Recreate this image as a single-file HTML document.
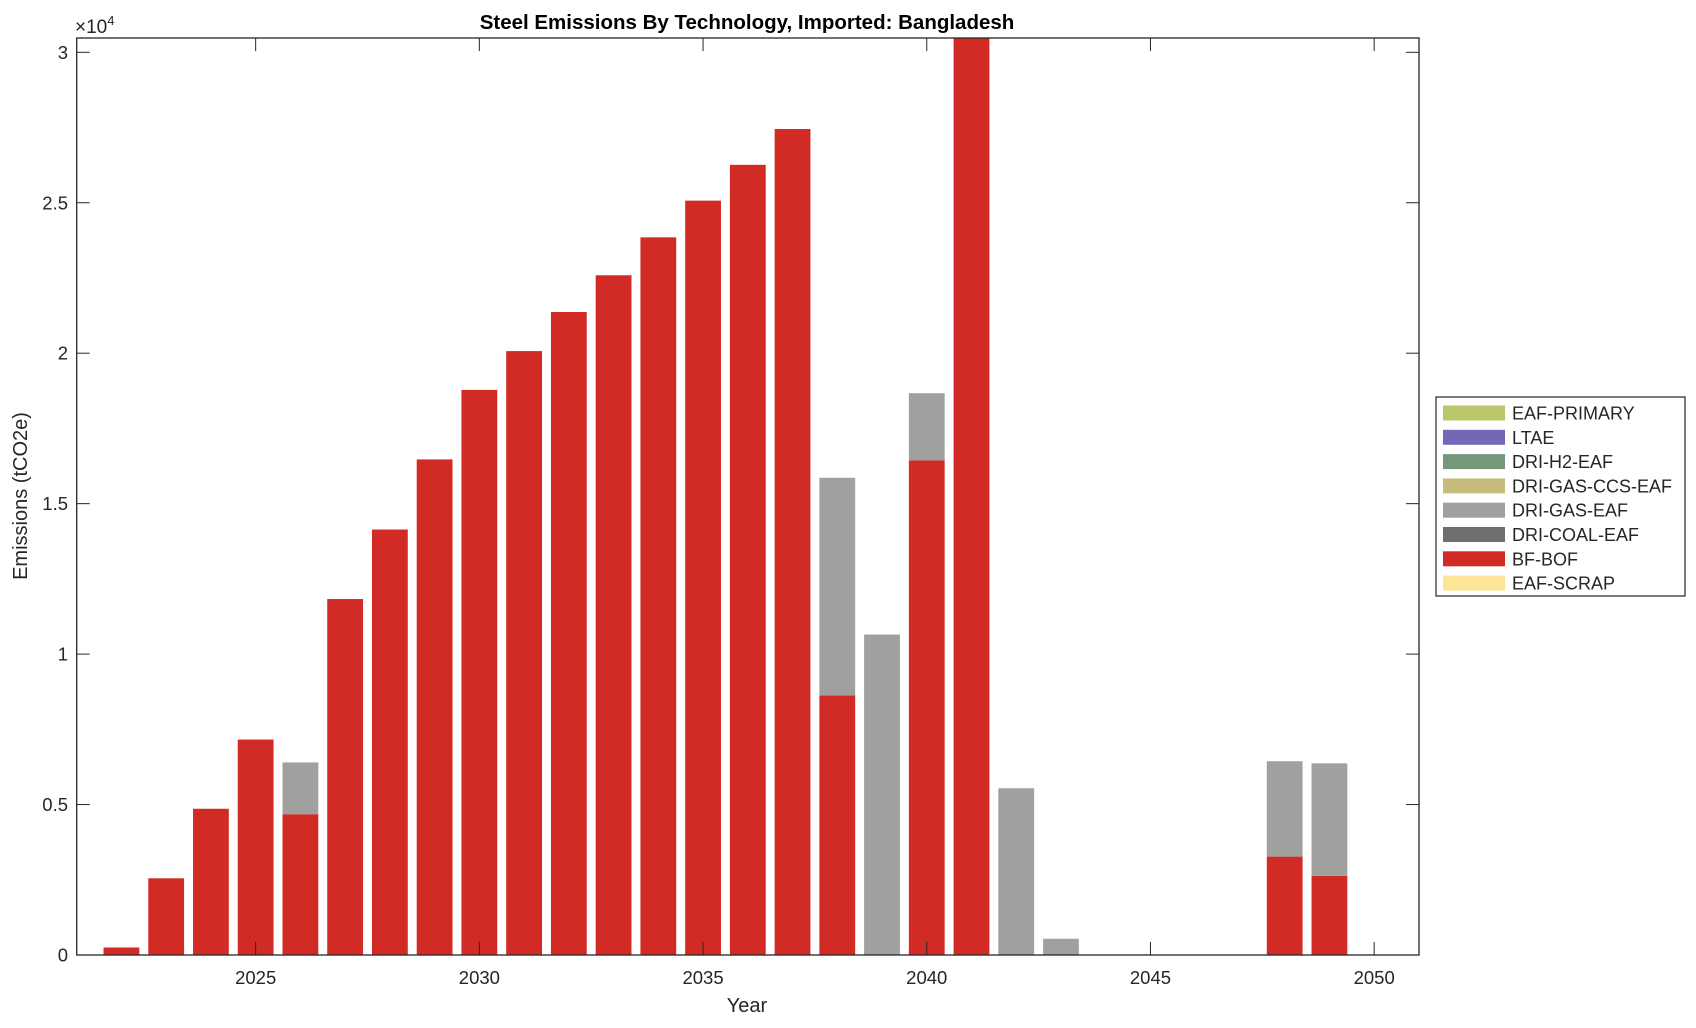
<!DOCTYPE html>
<html><head><meta charset="utf-8"><style>
body{margin:0;background:#fff;}
svg text{font-family:"Liberation Sans",Arial,sans-serif;fill:#262626;}
</style></head><body>
<svg id="s" width="1696" height="1023" xmlns="http://www.w3.org/2000/svg">
<rect width="1696" height="1023" fill="#fff"/>
<g id="bars"></g>
<g id="ax"></g>
<text x="747" y="29" font-size="20.5" font-weight="bold" text-anchor="middle" style="fill:#000">Steel Emissions By Technology, Imported: Bangladesh</text>
<text x="75" y="33" font-size="19">×10<tspan font-size="13" dy="-8">4</tspan></text>
<text x="747" y="1012" font-size="20" text-anchor="middle">Year</text>
<text transform="translate(27,496) rotate(-90)" font-size="20" text-anchor="middle">Emissions (tCO2e)</text>
<g id="leg"></g>
</svg>
<script>
var NS="http://www.w3.org/2000/svg";
function el(p,t,a,txt){var e=document.createElementNS(NS,t);for(var k in a)e.setAttribute(k,a[k]);if(txt!==undefined)e.textContent=txt;document.getElementById(p).appendChild(e);return e;}
var L=76.7,R=1419,T=38,B=955;
function X(y){return L+(y-2021)*44.74;}
function Y(v){return B-v*300.9;}
var red="#D22B26",gray="#A0A09F";
var data=[[2022,0.025,0],[2023,0.255,0],[2024,0.486,0],[2025,0.716,0],[2026,0.468,0.172],[2027,1.183,0],[2028,1.414,0],[2029,1.647,0],[2030,1.878,0],[2031,2.007,0],[2032,2.137,0],[2033,2.259,0],[2034,2.385,0],[2035,2.507,0],[2036,2.626,0],[2037,2.745,0],[2038,0.863,0.723],[2039,0,1.065],[2040,1.644,0.223],[2041,3.2,0],[2042,0,0.554],[2043,0,0.054],[2048,0.327,0.317],[2049,0.263,0.374]];
data.forEach(function(d){var x=X(d[0])-17.9;
 if(d[1]>0){var y=Math.max(Y(d[1]),T);el("bars","rect",{x:x,y:y,width:35.8,height:B-y,fill:red});}
 if(d[2]>0){var y0=Y(d[1]),y1=Y(d[1]+d[2]);el("bars","rect",{x:x,y:y1,width:35.8,height:y0-y1,fill:gray});}
});
el("ax","rect",{x:L,y:T,width:R-L,height:B-T,fill:"none",stroke:"#262626","stroke-width":1.3});
for(var yr=2025;yr<=2050;yr+=5){var x=X(yr);
 el("ax","line",{x1:x,y1:B,x2:x,y2:B-13,stroke:"#262626"});
 el("ax","line",{x1:x,y1:T,x2:x,y2:T+13,stroke:"#262626"});
 el("ax","text",{x:x,y:984,"font-size":18.5,"text-anchor":"middle"},String(yr));}
[0,0.5,1,1.5,2,2.5,3].forEach(function(v){var y=Y(v);
 el("ax","line",{x1:L,y1:y,x2:L+13,y2:y,stroke:"#262626"});
 el("ax","line",{x1:R,y1:y,x2:R-13,y2:y,stroke:"#262626"});
 el("ax","text",{x:68,y:y+6.5,"font-size":18.5,"text-anchor":"end"},String(v));});
el("leg","rect",{x:1436,y:397,width:249,height:199,fill:"#fff",stroke:"#262626","stroke-width":1.2});
var items=[["EAF-PRIMARY","#BCC66B"],["LTAE","#7368B8"],["DRI-H2-EAF","#74987A"],["DRI-GAS-CCS-EAF","#C6BC7E"],["DRI-GAS-EAF","#A0A09F"],["DRI-COAL-EAF","#6F6F6F"],["BF-BOF","#D22B26"],["EAF-SCRAP","#FDE496"]];
items.forEach(function(it,i){var cy=413+i*24.3;
 el("leg","rect",{x:1443,y:cy-7.5,width:62,height:15,fill:it[1]});
 el("leg","text",{x:1512,y:cy+6.5,"font-size":18},it[0]);});
</script>
</body></html>
